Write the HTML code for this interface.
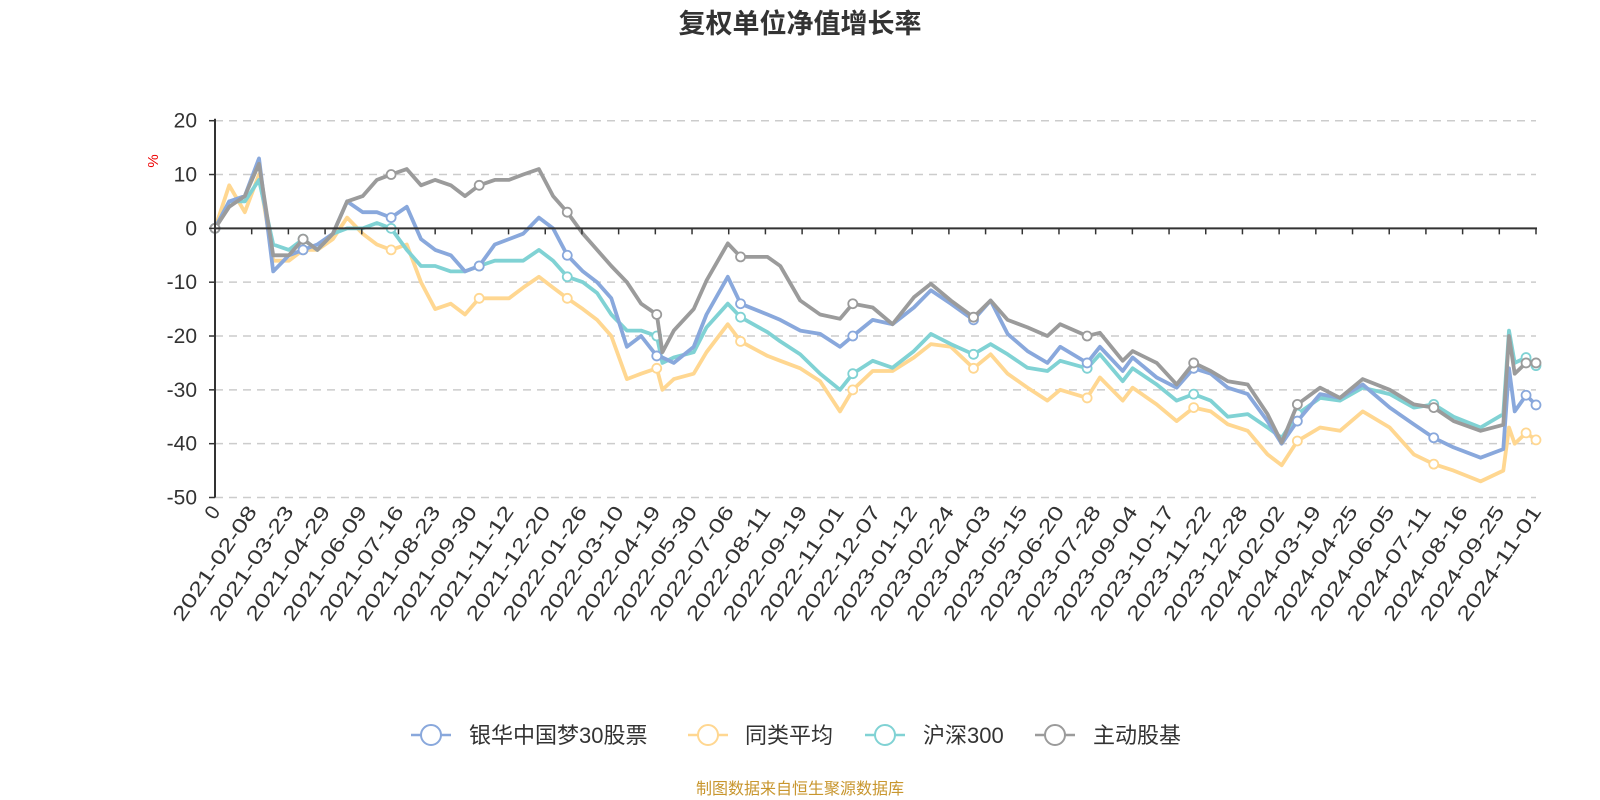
<!DOCTYPE html>
<html><head><meta charset="utf-8"><style>
html,body{margin:0;padding:0;background:#fff;}
svg{display:block;font-family:"Liberation Sans","Noto Sans CJK SC",sans-serif;}
</style></head><body>
<svg id="chart" width="1600" height="800" viewBox="0 0 1600 800" xmlns="http://www.w3.org/2000/svg">
<text x="800" y="33" text-anchor="middle" font-size="27" font-weight="bold" fill="#333">复权单位净值增长率</text>
<text x="0" y="0" transform="translate(158,161) rotate(-90)" text-anchor="middle" font-size="15" fill="#e00">%</text>
<g id="grid"></g>
<g id="series"></g>
<g id="axes"></g>
<g id="legend"></g>
<text x="800" y="794" text-anchor="middle" font-size="16" fill="#c8962e">制图数据来自恒生聚源数据库</text>
</svg>
<script>
const days = [0,10,21,31,41,52,62,72,83,93,104,114,124,135,145,155,166,176,186,197,207,217,228,238,248,259,269,279,290,300,311,315,323,337,346,361,370,389,398,412,426,440,449,463,477,492,504,518,534,546,558,572,586,595,614,623,639,646,663,677,689,701,713,727,741,751,762,778,792,808,827,844,858,872,891,907,911,915,923,930];
const fundVals = [0,5,6,13,-8,-5,-4,-3,-1,5,3,3,2,4,-2,-4,-5,-8,-7,-3,-2,-1,2,0,-5,-8,-10,-13,-22,-20,-23.7,-24,-25,-22,-16,-9,-14,-16,-17,-19,-19.6,-22,-20,-17,-17.8,-14.7,-11.5,-14,-17,-13.4,-19.6,-22.8,-25,-22,-25,-22,-26.5,-24,-27.7,-29.6,-26,-27,-29.6,-30.8,-35.8,-40,-35.8,-30.8,-31.5,-29,-33.3,-36.4,-38.9,-40.7,-42.6,-41,-26,-34,-31,-32.8];
const peerVals = [0,8,3,10,-6,-6,-4,-4,-2,2,-1,-3,-4,-3,-10,-15,-14,-16,-13,-13,-13,-11,-9,-11,-13,-15,-17,-20,-28,-27,-26,-30,-28,-27,-23,-17.8,-21,-23.7,-24.6,-26,-28.4,-34,-30,-26.5,-26.5,-24,-21.5,-22,-26,-23.4,-27,-29.6,-32,-30,-31.5,-27.7,-32,-29.6,-32.7,-35.8,-33.3,-34,-36.4,-37.6,-42,-44,-39.5,-37,-37.6,-34,-37,-42,-43.8,-45,-47,-45,-37,-40,-38,-39.3];
const hs300Vals = [0,5,5,9,-3,-4,-2,-4,-1,0,0,1,0,-4,-7,-7,-8,-8,-7,-6,-6,-6,-4,-6,-9,-10,-12,-16,-19,-19,-20,-25,-24,-23,-18.4,-14,-16.5,-19.3,-21,-23.4,-27,-30,-27,-24.6,-25.9,-22.8,-19.6,-21.5,-23.4,-21.5,-23.4,-25.9,-26.5,-24.6,-26,-23.4,-28.4,-26,-29,-32,-30.8,-32,-35,-34.5,-37,-38.9,-34.5,-31.5,-32,-29.6,-30.8,-33.3,-32.7,-35,-37,-34.5,-19,-25,-24,-25.5];
const activeVals = [0,4,6,12,-5,-5,-2,-4,-1,5,6,9,10,11,8,9,8,6,8,9,9,10,11,6,3,-1,-4,-7,-10,-14,-16,-23,-19,-15,-9.7,-2.8,-5.3,-5.3,-7,-13.4,-16,-16.8,-14,-14.7,-17.8,-12.8,-10.3,-13.4,-16.5,-13.4,-17,-18.4,-20,-17.8,-20,-19.4,-24.6,-22.8,-25,-29,-25,-26.5,-28.4,-29,-34.5,-39.8,-32.7,-29.6,-31.5,-28,-30,-32.7,-33.3,-35.8,-37.6,-36.5,-20,-27,-25,-25];
const seriesNames = ["银华中国梦30股票","同类平均","沪深300","主动股基"];
const seriesColors = ["#89a8dc","#ffd791","#80d2d4","#9b9b9b"];
const xLabels = ["0","2021-02-08","2021-03-23","2021-04-29","2021-06-09","2021-07-16","2021-08-23","2021-09-30","2021-11-12","2021-12-20","2022-01-26","2022-03-10","2022-04-19","2022-05-30","2022-07-06","2022-08-11","2022-09-19","2022-11-01","2022-12-07","2023-01-12","2023-02-24","2023-04-03","2023-05-15","2023-06-20","2023-07-28","2023-09-04","2023-10-17","2023-11-22","2023-12-28","2024-02-02","2024-03-19","2024-04-25","2024-06-05","2024-07-11","2024-08-16","2024-09-25","2024-11-01"];
const yTicks = [20,10,0,-10,-20,-30,-40,-50];

const NS="http://www.w3.org/2000/svg";
const X0=215,X1=1536,Y20=120.7,YM50=497.5,DMAX=930;
const xs=d=>X0+(d/DMAX)*(X1-X0);
const ys=v=>Y20+(20-v)/70*(YM50-Y20);
function mk(tag,attrs,parent){const e=document.createElementNS(NS,tag);for(const k in attrs)e.setAttribute(k,attrs[k]);parent.appendChild(e);return e;}
const grid=document.getElementById('grid'),axes=document.getElementById('axes'),ser=document.getElementById('series'),leg=document.getElementById('legend');

yTicks.forEach(v=>{
  if(v!==0){const l=mk('line',{x1:X0,x2:X1,y1:ys(v),y2:ys(v),stroke:'#ccc','stroke-width':1.5,'stroke-dasharray':'8,6'},grid);
  
  }
  const t=mk('line',{x1:X0-6,x2:X0,y1:ys(v),y2:ys(v),stroke:'#333','stroke-width':1.5},axes);
  
  
  const tx=mk('text',{x:X0-18,y:ys(v)+7,'text-anchor':'end','font-size':21,fill:'#333'},axes);
  
  
  tx.textContent=v;
});
const ya=mk('line',{x1:X0,x2:X0,y1:Y20-2,y2:YM50,stroke:'#333','stroke-width':2},axes);


const xa=mk('line',{x1:X0,x2:X1+1,y1:ys(0),y2:ys(0),stroke:'#333','stroke-width':2},axes);


xLabels.forEach((lab,k)=>{
  const x=xs(k*DMAX/(xLabels.length-1));
  const t=mk('line',{x1:x,x2:x,y1:ys(0),y2:ys(0)+6,stroke:'#333','stroke-width':1.5},axes);
  
  
  const tx=mk('text',{x:0,y:0,'text-anchor':'end','font-size':20,fill:'#333',transform:`translate(${x+6},${YM50+14}) rotate(-56)`},axes);
  if(lab.length>2){tx.setAttribute('textLength',134);tx.setAttribute('lengthAdjust','spacingAndGlyphs');}
  
  
  tx.textContent=lab;
});
const allVals=[fundVals,peerVals,hs300Vals,activeVals];
const order=[1,2,0,3];
order.forEach(si=>{
  const vals=allVals[si];
  const pts=days.map((d,i)=>xs(d).toFixed(1)+','+ys(vals[i]).toFixed(1)).join(' ');
  const pl=mk('polyline',{points:pts,fill:'none',stroke:seriesColors[si],'stroke-width':3.8,'stroke-linejoin':'round'},ser);
  
  
  days.forEach((d,i)=>{
    if(i%6!==0 && i!==days.length-1) return;
    const c=mk('circle',{cx:xs(d),cy:ys(vals[i]),r:4.5,fill:'#fff',stroke:seriesColors[si],'stroke-width':1.8},ser);
    
    
  });
});
const legPos=[[411,469],[688,745],[865,923],[1035,1093]];
seriesNames.forEach((n,i)=>{
  const [lx,tx]=legPos[i];
  const g=mk('g',{},leg);
  
  
  mk('line',{x1:lx,x2:lx+40,y1:735,y2:735,stroke:seriesColors[i],'stroke-width':2.5},g);
  mk('circle',{cx:lx+20,cy:735,r:10,fill:'#fff',stroke:seriesColors[i],'stroke-width':2},g);
  const t=mk('text',{x:tx,y:743,'font-size':22,fill:'#333'},g);
  
  
  t.textContent=n;
});
</script>
</body></html>
